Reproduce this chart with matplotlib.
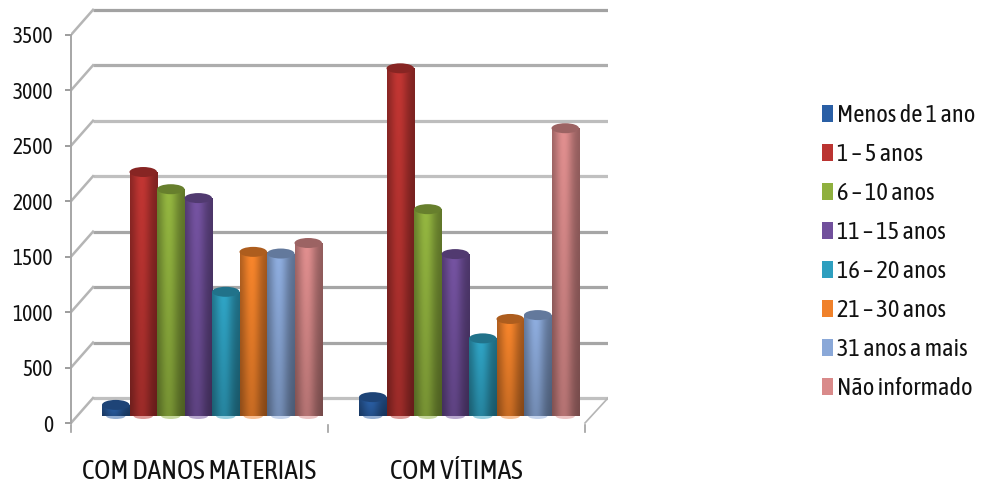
import numpy as np
import matplotlib
matplotlib.use("Agg")
import matplotlib.pyplot as plt
from matplotlib.patches import Ellipse, Patch
from matplotlib.colors import to_rgb
import logging

categories = ["COM DANOS MATERIAIS", "COM VÍTIMAS"]
series_names = ["Menos de 1 ano", "1 – 5 anos", "6 – 10 anos", "11 – 15 anos",
                "16 – 20 anos", "21 – 30 anos", "31 anos a mais", "Não informado"]
danos = [100, 2200, 2045, 1965, 1120, 1480, 1465, 1560]
vitimas = [170, 3135, 1865, 1460, 700, 875, 910, 2595]
colors = ["#2a5fa5", "#bb3431", "#8fb03e", "#71509c", "#2e9fbf", "#f0812a", "#8aa8d8", "#d98a8a"]
yticks = [0, 500, 1000, 1500, 2000, 2500, 3000, 3500]
grid_colors = ["#c0c0c0", "#a6a6a6", "#a6a6a6", "#a6a6a6", "#c0c0c0", "#bdbdbd", "#adadad", "#a2a2a2"]

logging.getLogger("matplotlib.font_manager").setLevel(logging.ERROR)
plt.rcParams['font.family'] = ['Asap Condensed', 'Barlow Condensed', 'Liberation Sans', 'DejaVu Sans']

W, H = 984, 486
fig = plt.figure(figsize=(W / 100, H / 100), dpi=100)
ax = fig.add_axes([71 / W, (H - 440) / H, (608 - 71) / W, 435 / H])

# one category = 257 px, one unit of value = 0.1109 px
px_x = 1 / 257
px_y = 1 / 0.1109
x_lim = (-0.5, -0.5 + 537 * px_x)
y_lim = (-17 * px_y, 418 * px_y)

# depth of the fake 3D box
dx_back = 22 * px_x
dy_back = 25 * px_y
dx_bar = 12.5 * px_x
floor = 7 * px_y
bar_w = 27.5 * px_x
cap_h = 10 * px_y


def shade(color, w=64, h=32):
    # cylinder look: dark edges, light band left of the centre, darker to the bottom
    t = np.linspace(0, 1, w)
    across = 0.66 + 0.38 * np.exp(-((t - 0.42) / 0.34) ** 2)
    down = np.linspace(1.0, 0.8, h)
    img = np.outer(down, across)[..., None] * np.array(to_rgb(color))
    return np.clip(img, 0, 1)


# back wall grid and the slanted side lines
for v, gc in zip(yticks, grid_colors):
    ax.plot([x_lim[0] + dx_back, x_lim[1]], [v + dy_back, v + dy_back], color=gc, lw=2.3,
            solid_capstyle="butt", zorder=1)
    ax.plot([x_lim[0], x_lim[0] + dx_back], [v, v + dy_back], color="#b5b5b5", lw=1.8, zorder=1)
ax.plot([1.5, 1.5 + dx_back + 1 * px_x], [0, dy_back], color="#b5b5b5", lw=1.2, zorder=1)

for c, values in enumerate([danos, vitimas]):
    for i, val in enumerate(values):
        x = c + dx_bar + (i - 3.5) * bar_w
        z = 3 + i * 0.01
        rect = ax.bar(x, val, width=bar_w, bottom=floor, color="none", zorder=z)[0]
        im = ax.imshow(shade(colors[i]), extent=(x - bar_w / 2, x + bar_w / 2, floor, floor + val),
                       aspect="auto", interpolation="bilinear", zorder=z)
        im.set_clip_path(rect)
        base = np.array(to_rgb(colors[i]))
        ax.add_patch(Ellipse((x, floor), bar_w * 0.7, cap_h * 0.6, color=base * 0.5 + 0.5, lw=0, zorder=z - 0.5))
        ax.add_patch(Ellipse((x, floor + val), bar_w, cap_h, color=base * 0.72, lw=0, zorder=z + 0.005))

ax.set_xlim(x_lim)
ax.set_ylim(y_lim)

for side in ["top", "right", "bottom"]:
    ax.spines[side].set_visible(False)
ax.patch.set_visible(False)
ax.spines["left"].set_bounds(0, 3500)
ax.spines["left"].set_color("#a6a6a6")
ax.spines["left"].set_linewidth(1.4)

ax.set_yticks(yticks)
ax.set_yticklabels([str(v) for v in yticks], fontsize=15.5, color="#111111")
ax.tick_params(axis="y", length=4, width=1.2, color="#8c8c8c", pad=9)

# label ticks sit between the group marks
ax.set_xticks([0, 1])
ax.set_xticklabels(categories, fontsize=19.7, color="#111111")
ax.tick_params(axis="x", length=0, pad=14)
for xb in [-0.5, 0.5, 1.5]:
    ax.plot([xb, xb], [-2 * px_y, -9 * px_y], color="#a0a0a0", lw=1.2, clip_on=False)

handles = [Patch(facecolor=col, edgecolor="none") for col in colors]
fig.legend(handles, series_names, loc="center left", bbox_to_anchor=(822 / W, (H - 252) / H),
           frameon=False, fontsize=17.6, labelspacing=0.655, handlelength=0.45, handleheight=0.65,
           handletextpad=0.15, labelcolor="#111111", borderpad=0, borderaxespad=0)

fig.savefig("out.png", dpi=100)
